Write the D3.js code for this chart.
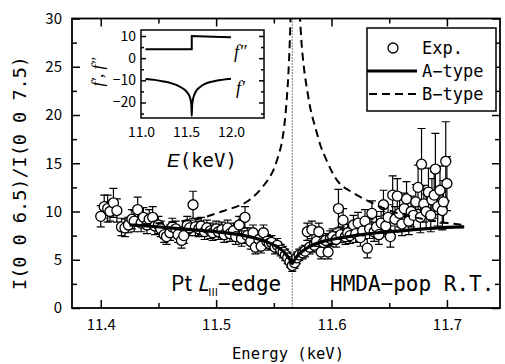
<!DOCTYPE html>
<html>
<head>
<meta charset="utf-8">
<script src="https://cdn.jsdelivr.net/npm/d3@7"></script>
<style>
  html, body { margin: 0; padding: 0; background: #fff; }
  svg { display: block; }
</style>
</head>
<body>
<svg id="chart" width="505" height="364"></svg>
<script>
// experimental points: [energy keV, ratio, error]
const expPoints = [
  [11.400, 9.5, 1.1], [11.403, 10.5, 1.2], [11.406, 10.3, 1.4], [11.408, 10.0, 1.0],
  [11.411, 10.9, 1.5], [11.414, 10.1, 1.2], [11.418, 8.4, 0.9], [11.421, 8.3, 0.9],
  [11.424, 8.6, 0.8], [11.427, 9.2, 1.0], [11.429, 9.0, 1.1], [11.432, 10.2, 1.3],
  [11.435, 8.8, 0.9], [11.437, 9.4, 1.0], [11.440, 8.6, 0.9], [11.442, 9.2, 1.0],
  [11.445, 9.4, 1.1], [11.447, 8.5, 0.9], [11.450, 8.6, 0.9], [11.452, 8.2, 0.8],
  [11.455, 7.6, 0.8], [11.457, 7.4, 0.8], [11.460, 7.8, 0.8], [11.462, 8.4, 0.9],
  [11.465, 8.2, 0.8], [11.467, 7.6, 0.8], [11.470, 7.0, 0.8], [11.472, 7.5, 0.8],
  [11.475, 8.6, 0.9], [11.477, 8.3, 0.8], [11.480, 10.7, 1.4], [11.482, 8.4, 0.9],
  [11.485, 8.2, 0.8], [11.487, 8.5, 0.9], [11.490, 7.9, 0.8], [11.492, 8.3, 0.8],
  [11.495, 8.0, 0.8], [11.497, 7.8, 0.8], [11.500, 8.2, 0.8], [11.502, 7.9, 0.8],
  [11.505, 8.1, 0.8], [11.507, 7.6, 0.8], [11.510, 8.3, 0.8], [11.512, 7.7, 0.8],
  [11.515, 8.0, 0.8], [11.517, 7.4, 0.8], [11.520, 8.6, 0.9], [11.522, 7.2, 0.8],
  [11.525, 9.4, 1.1], [11.527, 7.5, 0.8], [11.530, 6.9, 0.8], [11.532, 7.8, 0.8],
  [11.534, 6.3, 0.7], [11.537, 7.1, 0.8], [11.539, 6.4, 0.7], [11.541, 7.8, 0.8],
  [11.544, 6.9, 0.7], [11.546, 6.7, 0.7], [11.548, 6.8, 0.7], [11.551, 6.3, 0.7],
  [11.553, 6.5, 0.7], [11.556, 6.0, 0.6], [11.558, 5.8, 0.6], [11.560, 5.5, 0.6],
  [11.562, 5.2, 0.6], [11.564, 4.8, 0.6], [11.566, 4.4, 0.6], [11.568, 4.7, 0.6],
  [11.570, 5.2, 0.6], [11.572, 5.5, 0.6], [11.575, 5.7, 0.6], [11.577, 5.9, 0.6],
  [11.579, 7.9, 0.9], [11.581, 6.3, 0.7], [11.583, 8.1, 0.9], [11.585, 6.5, 0.7],
  [11.587, 6.9, 0.7], [11.589, 7.9, 0.9], [11.591, 5.8, 0.7], [11.593, 6.8, 0.7],
  [11.595, 7.0, 0.7], [11.597, 5.8, 0.7], [11.599, 7.2, 0.8], [11.601, 7.4, 0.8],
  [11.604, 7.1, 0.8], [11.606, 10.3, 2.0], [11.608, 7.6, 0.8], [11.610, 9.1, 1.2],
  [11.612, 7.4, 0.8], [11.614, 7.8, 0.9], [11.616, 7.5, 0.8], [11.619, 8.6, 1.0],
  [11.621, 7.7, 0.9], [11.623, 8.8, 1.1], [11.625, 7.3, 0.9], [11.627, 8.0, 0.9],
  [11.629, 9.0, 1.2], [11.631, 6.2, 1.0], [11.633, 8.2, 1.0], [11.635, 9.8, 1.3],
  [11.637, 7.9, 1.0], [11.639, 8.4, 1.1], [11.641, 7.6, 1.0], [11.643, 8.8, 1.2],
  [11.645, 10.7, 1.5], [11.647, 8.5, 1.1], [11.649, 9.4, 1.3], [11.651, 7.4, 1.1],
  [11.653, 11.7, 2.0], [11.655, 9.2, 1.3], [11.657, 11.6, 1.8], [11.659, 9.8, 1.4],
  [11.661, 8.7, 1.2], [11.663, 10.3, 1.6], [11.665, 11.3, 1.8], [11.667, 9.0, 1.4],
  [11.669, 10.0, 1.6], [11.671, 9.6, 1.5], [11.673, 11.0, 1.8], [11.675, 12.5, 2.3],
  [11.677, 9.4, 1.6], [11.678, 14.9, 3.7], [11.680, 10.8, 1.9], [11.682, 10.0, 1.8],
  [11.684, 12.0, 2.5], [11.686, 9.6, 1.7], [11.687, 11.2, 2.2], [11.689, 11.7, 2.4],
  [11.690, 14.4, 3.7], [11.692, 10.5, 2.0], [11.694, 12.2, 2.5], [11.696, 10.1, 2.0],
  [11.697, 11.0, 2.2], [11.699, 15.2, 4.1], [11.700, 12.9, 2.8]
];

// A-type calculation
const aTypeEnergy = [11.425, 11.44, 11.46, 11.48, 11.50, 11.52, 11.535, 11.545, 11.552, 11.557,
  11.561, 11.564, 11.566, 11.568, 11.571, 11.575, 11.58, 11.59, 11.60, 11.62, 11.64, 11.66,
  11.68, 11.70, 11.715];
const aTypeRatio = [8.6, 8.5, 8.3, 8.1, 7.9, 7.6, 7.2, 6.8, 6.4, 6.0,
  5.5, 5.0, 4.6, 5.0, 5.5, 5.9, 6.3, 6.8, 7.1, 7.5, 7.8, 8.0,
  8.2, 8.35, 8.4];

// B-type calculation, two branches around the edge
const bTypeLowEnergy = [11.425, 11.45, 11.47, 11.49, 11.50, 11.51, 11.52, 11.53, 11.54, 11.545,
  11.55, 11.554, 11.557, 11.559, 11.561, 11.5625, 11.5638, 11.5646];
const bTypeLowRatio = [8.6, 8.8, 9.0, 9.4, 9.8, 10.2, 10.6, 11.3, 12.5, 13.3,
  14.4, 15.8, 17.2, 18.8, 21.3, 24.0, 27.5, 30.5];
const bTypeHighEnergy = [11.5725, 11.574, 11.576, 11.579, 11.582, 11.586, 11.590, 11.595, 11.600,
  11.607, 11.615, 11.622, 11.635, 11.65, 11.665, 11.68, 11.695, 11.715];
const bTypeHighRatio = [30.5, 27.5, 25.0, 22.5, 20.5, 18.7, 17.0, 15.5, 14.2,
  12.9, 12.2, 11.7, 10.9, 10.1, 9.6, 9.2, 8.9, 8.6];

const edgeEnergy = 11.566;

// inset: anomalous scattering factors
const fppEnergy = [11.05, 11.564, 11.564, 11.8, 12.0];
const fppValue = [4.0, 4.0, 10.0, 9.7, 9.4];
const fpEnergy = [11.05, 11.15, 11.25, 11.35, 11.42, 11.47, 11.5, 11.52, 11.54, 11.55, 11.557,
  11.561, 11.564, 11.567, 11.571, 11.578, 11.59, 11.61, 11.65, 11.7, 11.8, 11.9, 12.0];
const fpValue = [-9.4, -9.8, -10.5, -11.5, -12.6, -13.8, -14.8, -15.8, -17.3, -18.6, -20.2,
  -22.2, -26.0, -22.2, -20.2, -18.5, -16.8, -15.0, -13.2, -11.8, -10.5, -9.8, -9.3];

const xMajorTicks = [11.4, 11.5, 11.6, 11.7];
const xMinorTicks = [11.45, 11.55, 11.65];
const yMajorTicks = [0, 5, 10, 15, 20, 25, 30];
const yMinorTicks = [2.5, 7.5, 12.5, 17.5, 22.5, 27.5];
const insetXTicks = [11.0, 11.5, 12.0];
const insetYTicks = [10, 0, -10, -20];
const insetYMinor = [5, -5, -15, -25];

const legendItems = ['Exp.', 'A−type', 'B−type'];

const tickFont = '"Noto Sans CJK JP", "Noto Sans", sans-serif';
const monoFont = '"DejaVu Sans Mono", monospace';
const serifFont = '"Liberation Serif", "DejaVu Serif", serif';

const svg = d3.select('#chart');
const plot = { left: 72, right: 500, top: 18.5, bottom: 308 };

const x = d3.scaleLinear().domain([11.3751, 11.746]).range([plot.left, plot.right]);
const y = d3.scaleLinear().domain([0, 30]).range([plot.bottom, plot.top]);

svg.append('defs').append('clipPath').attr('id', 'plot-clip')
  .append('rect')
  .attr('x', plot.left).attr('y', plot.top)
  .attr('width', plot.right - plot.left).attr('height', plot.bottom - plot.top);

function styleAxis(g, size) {
  g.select('.domain').remove();
  g.selectAll('.tick line').attr('stroke', '#000').attr('stroke-width', 1.5);
  g.selectAll('.tick text').attr('fill', '#000').attr('font-family', tickFont).attr('font-size', size);
}

// main axes, ticks pointing inward
svg.append('g').attr('transform', `translate(0,${plot.bottom})`)
  .call(d3.axisBottom(x).tickValues(xMajorTicks).tickSize(-8).tickPadding(11).tickFormat(d3.format('.1f')))
  .call(g => styleAxis(g, 15));
svg.append('g').attr('transform', `translate(0,${plot.bottom})`)
  .call(d3.axisBottom(x).tickValues(xMinorTicks).tickSize(-5).tickFormat(''))
  .call(g => styleAxis(g, 15));
svg.append('g').attr('transform', `translate(0,${plot.top})`)
  .call(d3.axisTop(x).tickValues(xMajorTicks).tickSize(-8).tickFormat(''))
  .call(g => styleAxis(g, 15));
svg.append('g').attr('transform', `translate(0,${plot.top})`)
  .call(d3.axisTop(x).tickValues(xMinorTicks).tickSize(-5).tickFormat(''))
  .call(g => styleAxis(g, 15));
svg.append('g').attr('transform', `translate(${plot.left},0)`)
  .call(d3.axisLeft(y).tickValues(yMajorTicks).tickSize(-8).tickPadding(10).tickFormat(d3.format('d')))
  .call(g => styleAxis(g, 15));
svg.append('g').attr('transform', `translate(${plot.left},0)`)
  .call(d3.axisLeft(y).tickValues(yMinorTicks).tickSize(-5).tickFormat(''))
  .call(g => styleAxis(g, 15));
svg.append('g').attr('transform', `translate(${plot.right},0)`)
  .call(d3.axisRight(y).tickValues(yMajorTicks).tickSize(-8).tickFormat(''))
  .call(g => styleAxis(g, 15));
svg.append('g').attr('transform', `translate(${plot.right},0)`)
  .call(d3.axisRight(y).tickValues(yMinorTicks).tickSize(-5).tickFormat(''))
  .call(g => styleAxis(g, 15));

// edge marker
svg.append('line')
  .attr('x1', x(edgeEnergy)).attr('x2', x(edgeEnergy))
  .attr('y1', plot.top).attr('y2', plot.bottom)
  .attr('stroke', '#000').attr('stroke-width', 1)
  .attr('stroke-dasharray', '1 2');

const data = svg.append('g').attr('clip-path', 'url(#plot-clip)');

// error bars
const bars = data.append('g').attr('stroke', '#000').attr('stroke-width', 1.2);
expPoints.forEach(([e, v, err]) => {
  const cx = x(e);
  bars.append('line').attr('x1', cx).attr('x2', cx).attr('y1', y(v - err)).attr('y2', y(v + err));
  bars.append('line').attr('x1', cx - 4).attr('x2', cx + 4).attr('y1', y(v + err)).attr('y2', y(v + err));
  bars.append('line').attr('x1', cx - 4).attr('x2', cx + 4).attr('y1', y(v - err)).attr('y2', y(v - err));
});

data.append('g').selectAll('circle')
  .data(expPoints)
  .join('circle')
  .attr('cx', d => x(d[0]))
  .attr('cy', d => y(d[1]))
  .attr('r', 5)
  .attr('fill', '#fff')
  .attr('stroke', '#000')
  .attr('stroke-width', 1.3);

const line = d3.line().x(d => x(d[0])).y(d => y(d[1])).curve(d3.curveMonotoneX);

data.append('path')
  .attr('d', line(d3.zip(bTypeLowEnergy, bTypeLowRatio)))
  .attr('fill', 'none').attr('stroke', '#000').attr('stroke-width', 2)
  .attr('stroke-dasharray', '8 5');
data.append('path')
  .attr('d', line(d3.zip(bTypeHighEnergy, bTypeHighRatio)))
  .attr('fill', 'none').attr('stroke', '#000').attr('stroke-width', 2)
  .attr('stroke-dasharray', '8 5');
data.append('path')
  .attr('d', line(d3.zip(aTypeEnergy, aTypeRatio)))
  .attr('fill', 'none').attr('stroke', '#000').attr('stroke-width', 3.2);

// frame
svg.append('rect')
  .attr('x', plot.left).attr('y', plot.top)
  .attr('width', plot.right - plot.left).attr('height', plot.bottom - plot.top)
  .attr('fill', 'none').attr('stroke', '#000').attr('stroke-width', 1.8);

// annotations
const edgeLabel = svg.append('text')
  .attr('x', 171).attr('y', 291)
  .attr('font-family', tickFont).attr('font-size', 21).attr('fill', '#000');
edgeLabel.append('tspan').text('Pt ');
edgeLabel.append('tspan').attr('font-style', 'italic').text('L');
edgeLabel.append('tspan').attr('font-size', 11).attr('dy', 5).text('III');
edgeLabel.append('tspan').attr('font-family', monoFont).attr('dy', -5).text('−edge');

svg.append('text')
  .attr('x', 330).attr('y', 291)
  .attr('font-family', monoFont).attr('font-size', 21).attr('fill', '#000')
  .text('HMDA−pop R.T.');

// axis titles
svg.append('text')
  .attr('x', 288).attr('y', 359)
  .attr('text-anchor', 'middle')
  .attr('font-family', monoFont).attr('font-size', 15.5).attr('fill', '#000')
  .text('Energy (keV)');
svg.append('text')
  .attr('transform', 'translate(26,173) rotate(-90)')
  .attr('text-anchor', 'middle')
  .attr('font-family', monoFont).attr('font-size', 18.5).attr('fill', '#000')
  .text('I(0 0 6.5)/I(0 0 7.5)');

// legend
const legend = svg.append('g');
legend.append('rect')
  .attr('x', 367).attr('y', 28).attr('width', 129).attr('height', 83)
  .attr('fill', '#fff').attr('stroke', '#000').attr('stroke-width', 1.5);
const legendY = [48, 71, 94];
legend.append('circle').attr('cx', 393).attr('cy', legendY[0]).attr('r', 5)
  .attr('fill', '#fff').attr('stroke', '#000').attr('stroke-width', 1.3);
legend.append('line').attr('x1', 367).attr('x2', 417).attr('y1', legendY[1]).attr('y2', legendY[1])
  .attr('stroke', '#000').attr('stroke-width', 3.2);
legend.append('line').attr('x1', 369).attr('x2', 417).attr('y1', legendY[2]).attr('y2', legendY[2])
  .attr('stroke', '#000').attr('stroke-width', 2).attr('stroke-dasharray', '8 5');
legend.selectAll('text')
  .data(legendItems)
  .join('text')
  .attr('x', 422).attr('y', (d, i) => legendY[i])
  .attr('dy', '0.36em')
  .attr('font-family', monoFont).attr('font-size', 17).attr('fill', '#000')
  .text(d => d);

// inset
const inset = { left: 141, right: 264, top: 30, bottom: 118 };
const ix = d3.scaleLinear().domain([11.0, 12.367]).range([inset.left, inset.right]);
const iy = d3.scaleLinear().domain([-27, 12.7]).range([inset.bottom, inset.top]);
const insetG = svg.append('g');
insetG.append('rect')
  .attr('x', inset.left).attr('y', inset.top)
  .attr('width', inset.right - inset.left).attr('height', inset.bottom - inset.top)
  .attr('fill', '#fff');

const minusFmt = d => (d < 0 ? '−' + Math.abs(d) : String(d));
insetG.append('g').attr('transform', `translate(${inset.left},0)`)
  .call(d3.axisLeft(iy).tickValues(insetYTicks).tickSize(-5).tickPadding(5).tickFormat(minusFmt))
  .call(g => styleAxis(g, 14));
insetG.append('g').attr('transform', `translate(${inset.left},0)`)
  .call(d3.axisLeft(iy).tickValues(insetYMinor).tickSize(-3).tickFormat(''))
  .call(g => styleAxis(g, 14));
insetG.append('g').attr('transform', `translate(${inset.right},0)`)
  .call(d3.axisRight(iy).tickValues(insetYTicks).tickSize(-5).tickFormat(''))
  .call(g => styleAxis(g, 14));
insetG.append('g').attr('transform', `translate(${inset.right},0)`)
  .call(d3.axisRight(iy).tickValues(insetYMinor).tickSize(-3).tickFormat(''))
  .call(g => styleAxis(g, 14));
insetG.append('g').attr('transform', `translate(0,${inset.bottom})`)
  .call(d3.axisBottom(ix).tickValues(insetXTicks).tickSize(0).tickPadding(9).tickFormat(d3.format('.1f')))
  .call(g => styleAxis(g, 14));

const iline = d3.line().x(d => ix(d[0])).y(d => iy(d[1]));
insetG.append('path')
  .attr('d', iline(d3.zip(fppEnergy, fppValue)))
  .attr('fill', 'none').attr('stroke', '#000').attr('stroke-width', 2);
insetG.append('path')
  .attr('d', iline.curve(d3.curveMonotoneX)(d3.zip(fpEnergy, fpValue)))
  .attr('fill', 'none').attr('stroke', '#000').attr('stroke-width', 2);

insetG.append('rect')
  .attr('x', inset.left).attr('y', inset.top)
  .attr('width', inset.right - inset.left).attr('height', inset.bottom - inset.top)
  .attr('fill', 'none').attr('stroke', '#000').attr('stroke-width', 1.5);

insetG.append('text')
  .attr('x', 234).attr('y', 58)
  .attr('font-family', serifFont).attr('font-style', 'italic').attr('font-size', 18).attr('fill', '#000')
  .text('f″');
insetG.append('text')
  .attr('x', 236).attr('y', 94)
  .attr('font-family', serifFont).attr('font-style', 'italic').attr('font-size', 18).attr('fill', '#000')
  .text('f′');
insetG.append('text')
  .attr('transform', 'translate(103,72) rotate(-90)')
  .attr('text-anchor', 'middle')
  .attr('font-family', serifFont).attr('font-style', 'italic').attr('font-size', 17).attr('fill', '#000')
  .text('f′, f″');

const eLabel = insetG.append('text')
  .attr('x', 167).attr('y', 167)
  .attr('font-size', 19).attr('fill', '#000');
eLabel.append('tspan').attr('font-family', '"Liberation Sans", sans-serif').attr('font-style', 'italic').text('E');
eLabel.append('tspan').attr('font-family', monoFont).text('(keV)');
</script>
</body>
</html>
